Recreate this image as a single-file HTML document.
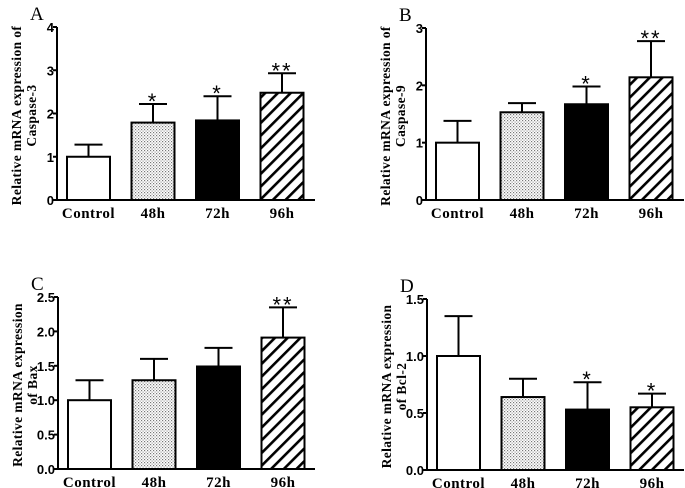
<!DOCTYPE html>
<html><head><meta charset="utf-8"><style>
body{margin:0;background:#fff;}
svg{display:block;}
.tk{font-family:"Liberation Sans",sans-serif;font-weight:bold;font-size:13px;}
.xl{font-family:"Liberation Serif",serif;font-weight:bold;font-size:15px;letter-spacing:0.5px;}
.yt{font-family:"Liberation Serif",serif;font-weight:bold;font-size:13.5px;letter-spacing:0.4px;}
.pl{font-family:"Liberation Serif",serif;font-size:19px;}
.st{font-family:"Liberation Sans",sans-serif;font-size:22px;}
</style></head><body>
<svg id="fig" width="685" height="488" viewBox="0 0 685 488" xmlns="http://www.w3.org/2000/svg">
<defs>
<pattern id="dots" width="3" height="3" patternUnits="userSpaceOnUse"><rect width="3" height="3" fill="#fff"/><rect x="0" y="0" width="1.2" height="1.2" fill="#777"/><rect x="1.5" y="1.5" width="1.2" height="1.2" fill="#999"/></pattern>
<pattern id="hatch" width="9" height="9" patternUnits="userSpaceOnUse" patternTransform="rotate(45)"><rect width="9" height="9" fill="#fff"/><rect x="0" y="0" width="2.6" height="9" fill="#000"/></pattern>
</defs>
</svg>
<script>
const categories=["Control","48h","72h","96h"];
const valuesA=[1.0,1.79,1.84,2.48];
const errorsA=[1.28,2.22,2.40,2.93];
const starsA=["","*","*","**"];
const ticksA=["0","1","2","3","4"];
const valuesB=[1.0,1.53,1.67,2.14];
const errorsB=[1.38,1.69,1.98,2.77];
const starsB=["","","*","**"];
const ticksB=["0","1","2","3"];
const valuesC=[1.0,1.29,1.49,1.91];
const errorsC=[1.29,1.60,1.76,2.35];
const starsC=["","","","**"];
const ticksC=["0.0","0.5","1.0","1.5","2.0","2.5"];
const valuesD=[1.0,0.64,0.53,0.55];
const errorsD=[1.35,0.80,0.77,0.67];
const starsD=["","","*","*"];
const ticksD=["0.0","0.5","1.0","1.5"];

const NS="http://www.w3.org/2000/svg";
const svg=document.getElementById('fig');
function mk(tag,attrs,parent,text){const e=document.createElementNS(NS,tag);for(const k in attrs)e.setAttribute(k,attrs[k]);if(text!==undefined)e.textContent=text;parent.appendChild(e);return e;}
const fills=["#fff","url(#dots)","#000","url(#hatch)"];

function panel(id,letter,ax,y0,ytop,xend,ticks,vals,errs,stars,title1,title2){
  const g=mk('g',{},svg);
  
  
  const ymax=parseFloat(ticks[ticks.length-1]);
  const Y=v=>y0-(v/ymax)*(y0-ytop);
  const X=i=>ax+10+i*64.5;
  const bw=43;
  const lbl=mk('text',{x:ax-27,y:ytop-7,class:'pl'},g,letter);
  
  
  const tx=ax-36, ty=(y0+ytop)/2+2;
  const t1=mk('text',{x:tx,y:ty,class:'yt','text-anchor':'middle',transform:`rotate(-90 ${tx} ${ty})`},g,title1);
  
  
  const t2=mk('text',{x:tx+15,y:ty,class:'yt','text-anchor':'middle',transform:`rotate(-90 ${tx+15} ${ty})`},g,title2);
  
  
  vals.forEach((v,i)=>{
    const x=X(i), cx=x+bw/2;
    const e=mk('line',{x1:cx,x2:cx,y1:Y(v),y2:Y(errs[i]),stroke:'#000','stroke-width':2},g);
    
    
    const c=mk('line',{x1:cx-14,x2:cx+14,y1:Y(errs[i]),y2:Y(errs[i]),stroke:'#000','stroke-width':2},g);
    
    
    const r=mk('rect',{x:x,y:Y(v),width:bw,height:y0-Y(v),fill:fills[i],stroke:'#000','stroke-width':2},g);
    
    
    if(stars[i]){
      const s=mk('text',{x:cx,y:Y(errs[i])+5,class:'st','text-anchor':'middle','letter-spacing':'2'},g,stars[i]);
      
      
    }
    const xl=mk('text',{x:cx,y:y0+18,class:'xl','text-anchor':'middle'},g,categories[i]);
    
    
  });
  const ya=mk('line',{x1:ax,x2:ax,y1:ytop,y2:y0+1,stroke:'#000','stroke-width':2},g);
  
  
  const xa=mk('line',{x1:ax-1,x2:xend,y1:y0,y2:y0,stroke:'#000','stroke-width':2},g);
  
  
  ticks.forEach(t=>{
    const y=Y(parseFloat(t));
    const tl=mk('line',{x1:ax-4,x2:ax,y1:y,y2:y,stroke:'#000','stroke-width':2},g);
    
    
    const tt=mk('text',{x:ax-3,y:y+5,class:'tk','text-anchor':'end'},g,t);
    
    
  });
}
panel('a','A',57,200,27,315,ticksA,valuesA,errorsA,starsA,'Relative mRNA expression of','Caspase-3');
panel('b','B',426,200,28,684,ticksB,valuesB,errorsB,starsB,'Relative mRNA expression of','Caspase-9');
panel('c','C',58,469,297,315,ticksC,valuesC,errorsC,starsC,'Relative mRNA expression','of Bax');
panel('d','D',427,470,299,684,ticksD,valuesD,errorsD,starsD,'Relative mRNA expression','of Bcl-2');
</script>
</body></html>
